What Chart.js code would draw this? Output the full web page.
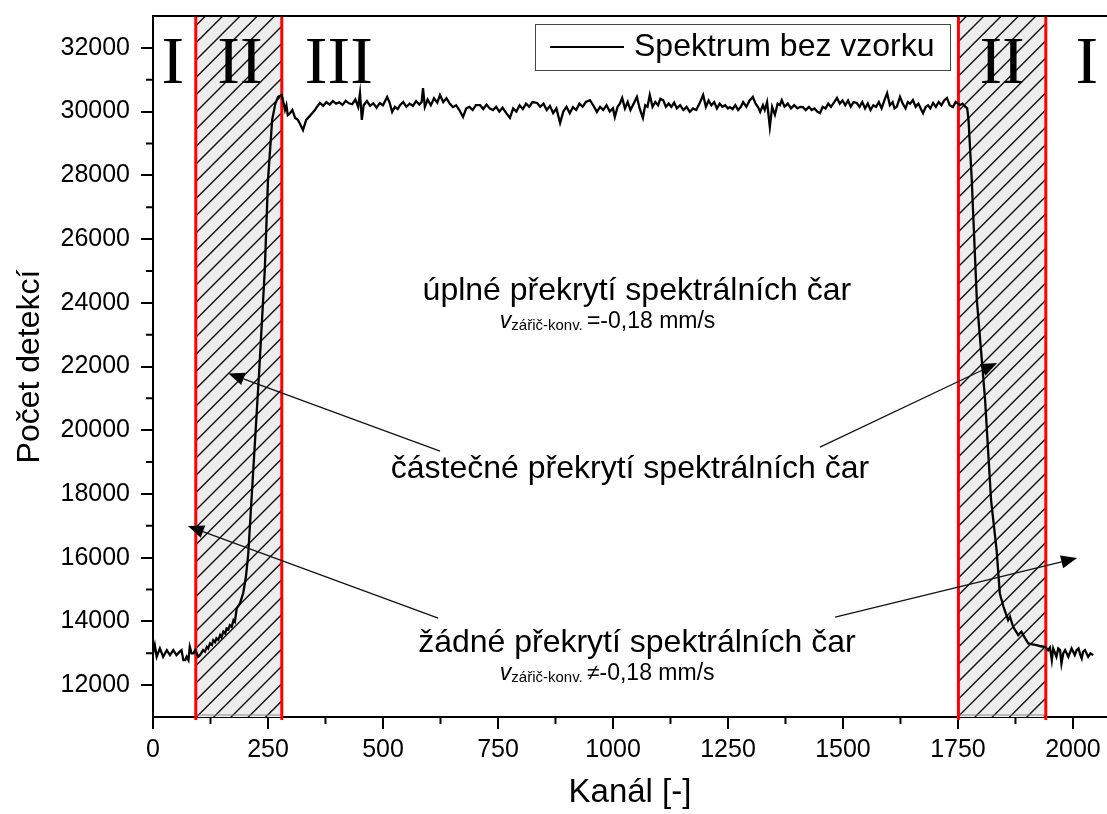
<!DOCTYPE html>
<html><head><meta charset="utf-8">
<script src="https://cdn.jsdelivr.net/npm/chart.js@4.4.1/dist/chart.umd.min.js"></script>
<style>html,body{margin:0;padding:0;background:#fff;}#wrap{width:1107px;height:814px;}</style>
</head><body><div id="wrap"><canvas id="c" width="1107" height="814"></canvas></div>
<script>
// ---- data ----
const channels = [0,4,8,15,22,30,37,44,51,58,62,66,70,73,77,80,84,88,92,95,98,102,109,113,117,120,124,128,131,135,138,142,146,149,153,157,160,164,167,171,175,178,182,189,196,202,207,218,231,243,250,259,266,272,280,287,290,293,298,303,309,315,320,326,333,340,346,352,356,363,370,377,384,391,398,405,412,419,426,433,440,446,450,454,458,465,472,479,486,493,500,509,514,520,526,532,537,544,551,558,565,572,579,584,587,591,597,604,611,618,624,631,638,645,652,659,666,674,681,688,695,702,711,718,725,732,739,746,753,760,768,776,783,790,797,804,811,818,825,835,842,849,856,863,870,877,885,892,899,906,913,920,927,934,941,950,957,965,972,979,986,993,1000,1004,1010,1015,1020,1026,1032,1038,1045,1052,1058,1065,1070,1075,1080,1086,1092,1098,1103,1109,1115,1121,1127,1133,1139,1146,1153,1160,1167,1174,1181,1188,1196,1202,1208,1214,1220,1226,1232,1238,1244,1250,1254,1260,1266,1272,1278,1283,1290,1297,1304,1310,1315,1320,1326,1330,1335,1341,1346,1352,1358,1363,1367,1373,1380,1387,1394,1401,1407,1413,1419,1426,1432,1438,1444,1450,1456,1462,1468,1474,1481,1487,1493,1499,1505,1511,1517,1523,1530,1536,1542,1548,1554,1560,1566,1572,1578,1584,1590,1596,1602,1608,1612,1617,1624,1630,1636,1641,1646,1652,1658,1664,1669,1674,1680,1685,1690,1696,1702,1708,1714,1720,1726,1732,1739,1745,1750,1754,1760,1766,1770,1773,1780,1791,1809,1822,1834,1841,1849,1859,1863,1870,1881,1888,1896,1903,1912,1921,1930,1939,1946,1950,1954,1957,1964,1968,1972,1975,1979,1983,1990,1997,2004,2008,2012,2016,2019,2022,2026,2033,2038,2044];
const counts = [12995,13256,12890,13152,12890,13099,12942,13099,12942,13050,13099,12785,12785,12890,12785,13204,12995,12995,13099,13000,12890,12940,13100,13050,13200,13150,13310,13260,13410,13350,13470,13420,13570,13500,13680,13620,13780,13750,13880,13830,14040,13990,14407,14564,14878,15400,16100,18750,21890,25030,27850,29740,30250,30460,30520,30050,30200,29890,29950,30050,29800,29740,29600,29420,29740,29850,29950,30050,30140,30270,30180,30300,30220,30330,30250,30290,30210,30340,30260,30230,30380,30150,30580,29740,30200,30330,30180,30260,30120,30270,30200,30460,30300,29990,30150,30080,30200,30300,30150,30250,30180,30330,30220,30300,30740,30150,30380,30200,30420,30280,30520,30300,30420,30250,30140,30200,30050,29830,30100,30150,30050,30200,30200,30080,30220,30100,30050,30150,30000,30120,29950,29800,30100,30000,30200,30080,30250,30150,30300,30270,30150,30250,30050,30180,29950,30100,29640,30000,30150,29950,30140,30050,30250,30150,30300,30360,30200,29990,30150,30050,30200,30000,30100,29830,30150,30250,30430,30100,30300,30050,30250,30460,30100,29800,30200,30150,30520,30150,30300,30200,30400,30360,30150,30250,30150,30280,30100,30200,30050,30150,29990,30100,30050,30250,30520,30150,30350,30200,30300,30100,30250,30150,30200,30100,30140,30080,30200,30050,30150,30300,30150,30350,30460,30250,30150,29990,30200,30050,30300,29520,30150,29900,30250,30200,30360,30150,30250,30100,30200,30100,30150,30140,30050,30150,30050,30100,30000,29950,30150,30100,30250,30150,30300,30430,30250,30350,30200,30350,30150,30300,30270,30150,30300,30100,30250,30050,30200,30150,30300,30100,30350,30580,30200,30300,30100,30150,30460,30250,30100,30300,30250,30360,30150,30250,30100,29950,30150,30200,30100,30270,30150,30300,30200,30350,30430,30200,30140,30300,30250,30200,30250,30150,30110,29740,27850,24100,20950,17800,16237,14878,14460,14040,14150,13830,13570,13675,13466,13309,13280,13256,13220,13204,13099,13180,12785,13152,12890,13150,13099,12680,13000,13099,12890,13152,12942,13100,13152,12950,12837,13050,13099,12890,13000,12942];
const seriesName = 'Spektrum bez vzorku';
const xTicks = [0,250,500,750,1000,1250,1500,1750,2000];
const xMinorTicks = [125,375,625,875,1125,1375,1625,1875];
const yTicks = [12000,14000,16000,18000,20000,22000,24000,26000,28000,30000,32000];
const yMinorTicks = [13000,15000,17000,19000,21000,23000,25000,27000,29000,31000];
const regionStart = [93,1751];
const regionEnd = [280,1941];
const romanLabels = ['I','II','III','II','I'];
const romanX = [43,189,404,1846,2030];
const romanY = 30897;
const noteTexts = ['úplné překrytí spektrálních čar','částečné překrytí spektrálních čar','žádné překrytí spektrálních čar'];
const noteX = [1052,1037,1052];
const noteY = [24085,18498,13045];
const velOps = ['=','≠'];
const velX = [754,754];
const velY = [23206,12157];
const arrowFromX = [624,1450,620,1483];
const arrowFromY = [19345,19471,14103,14135];
const arrowToX = [164,1835,76,2009];
const arrowToY = [21784,22108,16991,15987];

const SANS = '"Liberation Sans", Arial, sans-serif';
const SERIF = '"Liberation Serif", "Times New Roman", serif';
Chart.defaults.font.family = SANS;
Chart.defaults.color = '#000';

const points = channels.map((c,i)=>({x:c,y:counts[i]}));

const decor = {
  id:'decor',
  beforeDatasetsDraw(chart){
    const {ctx, chartArea:a, scales:{x}} = chart;
    regionStart.forEach((s,i)=>{
      const x0 = x.getPixelForValue(s), x1 = x.getPixelForValue(regionEnd[i]);
      ctx.save();
      ctx.fillStyle = '#ededed';
      ctx.fillRect(x0, a.top, x1-x0, a.bottom-a.top);
      ctx.beginPath(); ctx.rect(x0, a.top, x1-x0, a.bottom-a.top); ctx.clip();
      ctx.strokeStyle = '#111'; ctx.lineWidth = 1.4;
      ctx.beginPath();
      const sp = 17.3;
      const cMin = x0 + a.top, cMax = x1 + a.bottom;
      let c = 13.9 + Math.floor((cMin-13.9)/sp)*sp;
      for(; c <= cMax + sp; c += sp){
        ctx.moveTo(x0-2, c-(x0-2)); ctx.lineTo(x1+2, c-(x1+2));
      }
      ctx.stroke();
      ctx.restore();
      ctx.save();
      ctx.strokeStyle = '#888'; ctx.lineWidth = 1;
      ctx.strokeRect(x0, a.top, x1-x0, a.bottom-a.top-2);
      ctx.strokeStyle = '#ff0000'; ctx.lineWidth = 3;
      ctx.beginPath();
      ctx.moveTo(x0, a.top); ctx.lineTo(x0, a.bottom+3);
      ctx.moveTo(x1, a.top); ctx.lineTo(x1, a.bottom+3);
      ctx.stroke();
      ctx.restore();
    });
  },
  afterDraw(chart){
    const {ctx, chartArea:a, scales:{x,y}} = chart;
    ctx.save();
    // top frame
    ctx.strokeStyle = '#000'; ctx.lineWidth = 2;
    ctx.beginPath(); ctx.moveTo(a.left-1, a.top); ctx.lineTo(a.right+2, a.top); ctx.stroke();
    // minor ticks
    ctx.beginPath();
    xMinorTicks.forEach(v=>{const p=x.getPixelForValue(v); ctx.moveTo(p,a.bottom); ctx.lineTo(p,a.bottom+7);});
    yMinorTicks.forEach(v=>{const p=y.getPixelForValue(v); ctx.moveTo(a.left,p); ctx.lineTo(a.left-7,p);});
    ctx.stroke();
    // roman numerals
    ctx.fillStyle = '#000';
    ctx.font = '68px ' + SERIF;
    ctx.textAlign = 'center'; ctx.textBaseline = 'alphabetic';
    romanLabels.forEach((t,i)=>ctx.fillText(t, x.getPixelForValue(romanX[i]), y.getPixelForValue(romanY)));
    // notes
    ctx.font = '32px ' + SANS;
    noteTexts.forEach((t,i)=>ctx.fillText(t, x.getPixelForValue(noteX[i]), y.getPixelForValue(noteY[i])));
    // velocity labels
    ctx.textAlign = 'left';
    velOps.forEach((op,i)=>{
      let px = x.getPixelForValue(velX[i]); const py = y.getPixelForValue(velY[i]);
      ctx.font = 'italic 23px ' + SANS; ctx.fillText('v', px, py); px += ctx.measureText('v').width;
      ctx.font = '15px ' + SANS; ctx.fillText('zářič-konv.', px, py+2); px += ctx.measureText('zářič-konv. ').width;
      ctx.font = '23px ' + SANS; ctx.fillText(op + '-0,18 mm/s', px, py);
    });
    // arrows
    ctx.strokeStyle = '#111'; ctx.fillStyle = '#000'; ctx.lineWidth = 1.2;
    arrowFromX.forEach((fx,i)=>{
      const x0 = x.getPixelForValue(fx), y0 = y.getPixelForValue(arrowFromY[i]);
      const x1 = x.getPixelForValue(arrowToX[i]), y1 = y.getPixelForValue(arrowToY[i]);
      const ang = Math.atan2(y1-y0, x1-x0), L = 16, W = 6.5;
      const bx = x1 - L*Math.cos(ang), by = y1 - L*Math.sin(ang);
      ctx.beginPath(); ctx.moveTo(x0,y0); ctx.lineTo(bx,by); ctx.stroke();
      ctx.beginPath(); ctx.moveTo(x1,y1);
      ctx.lineTo(bx + W*Math.sin(ang), by - W*Math.cos(ang));
      ctx.lineTo(bx - W*Math.sin(ang), by + W*Math.cos(ang));
      ctx.closePath(); ctx.fill();
    });
    // legend
    const lx0 = 535, ly0 = 24, lx1 = 950, ly1 = 70;
    ctx.fillStyle = '#fff'; ctx.fillRect(lx0, ly0, lx1-lx0, ly1-ly0);
    ctx.strokeStyle = '#444'; ctx.lineWidth = 1; ctx.strokeRect(lx0+0.5, ly0+0.5, lx1-lx0, ly1-ly0);
    ctx.strokeStyle = '#000'; ctx.lineWidth = 2;
    ctx.beginPath(); ctx.moveTo(550, 47); ctx.lineTo(624, 47); ctx.stroke();
    ctx.fillStyle = '#000'; ctx.font = '32px ' + SANS; ctx.textAlign = 'left'; ctx.textBaseline = 'middle';
    ctx.fillText(seriesName, 634, 47);
    ctx.restore();
  }
};

new Chart(document.getElementById('c'), {
  type:'scatter',
  data:{datasets:[{label:seriesName, data:points, showLine:true, borderColor:'#000', borderWidth:2.3, pointRadius:0, tension:0, fill:false}]},
  options:{
    responsive:false, animation:false, devicePixelRatio:1,
    layout:{padding:{top:16,left:0,right:0,bottom:0}},
    plugins:{legend:{display:false}, tooltip:{enabled:false}},
    scales:{
      x:{type:'linear', min:0, max:2074,
        afterBuildTicks:s=>{s.ticks = xTicks.map(v=>({value:v}));},
        afterFit:s=>{s.height = 97; s.paddingLeft = 0; s.paddingRight = 0;},
        ticks:{font:{size:25}, color:'#000', padding:6, maxRotation:0, autoSkip:false, callback:v=>String(v)},
        grid:{drawOnChartArea:false, drawTicks:true, tickLength:12, color:'#000', lineWidth:2},
        border:{display:true, color:'#000', width:2},
        title:{display:true, text:'Kanál [-]', font:{size:33}, color:'#000', padding:{top:0,bottom:1}}
      },
      y:{type:'linear', min:11000, max:33000,
        afterBuildTicks:s=>{s.ticks = yTicks.map(v=>({value:v}));},
        afterFit:s=>{s.width = 153; s.paddingTop = 0; s.paddingBottom = 0;},
        ticks:{font:{size:25}, color:'#000', padding:11, autoSkip:false, callback:v=>String(v)},
        grid:{drawOnChartArea:false, drawTicks:true, tickLength:12, color:'#000', lineWidth:2},
        border:{display:true, color:'#000', width:2},
        title:{display:true, text:'Počet detekcí', font:{size:32}, color:'#000', padding:{top:11,bottom:0}}
      }
    }
  },
  plugins:[decor]
});
</script></body></html>
